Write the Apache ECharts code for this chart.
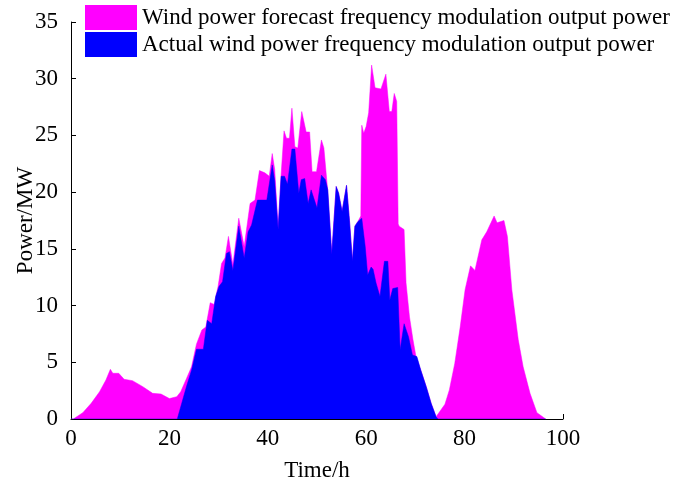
<!DOCTYPE html>
<html>
<head>
<meta charset="utf-8">
<script src="https://cdn.jsdelivr.net/npm/echarts@6/dist/echarts.min.js"></script>
<style>html,body{margin:0;padding:0;background:#fff}#c{width:686px;height:489px}</style>
</head>
<body>
<div id="c"></div>
<script>
var seriesNames = ['Wind power forecast frequency modulation output power', 'Actual wind power frequency modulation output power'];
var xTicks = [0, 20, 40, 60, 80, 100];
var yTicks = [0, 5, 10, 15, 20, 25, 30, 35];

var forecastT = [0, 0.5, 1, 2.4, 4.1, 5.8, 7.1, 8, 8.5, 9.7, 10.8, 12.5, 14.6, 16.6, 18.3, 20, 21.5, 22.3, 23.5, 24.5, 25.5, 26.6, 27.4, 28.3, 29.1, 29.9, 30.6, 31.3, 32.0, 32.9, 34.1, 35.2, 36.4, 37.4, 38.3, 39.4, 40.3, 40.9, 41.4, 42.1, 42.7, 43.3, 43.8, 44.4, 44.9, 45.5, 46.1, 46.9, 47.8, 48.5, 49.0, 49.9, 50.9, 51.4, 52.1, 53.0, 53.9, 54.4, 55.1, 56.0, 56.6, 57.2, 57.7, 58.3, 58.9, 59.1, 59.5, 60.0, 60.5, 61.1, 61.8, 63.0, 64.0, 64.7, 65.2, 65.7, 66.2, 66.5, 66.7, 67.7, 68.1, 68.8, 69.5, 70.1, 71.1, 72.2, 73.2, 74.2, 74.6, 76, 76.9, 78, 79.1, 80.1, 81.2, 82.1, 83.5, 84.5, 86, 86.6, 88, 88.7, 89.6, 90.9, 91.9, 93.3, 94.7, 96, 96.5];
var forecastV = [0, 0, 0.15, 0.56, 1.38, 2.4, 3.44, 4.38, 4.03, 4.03, 3.5, 3.38, 2.85, 2.26, 2.2, 1.8, 1.97, 2.4, 3.6, 4.6, 6.6, 7.85, 8.1, 10.25, 10.1, 11.7, 13.7, 14.2, 16.1, 13.6, 17.7, 15.2, 19.0, 19.3, 21.9, 21.7, 21.4, 23.4, 22.0, 16.9, 21.5, 25.4, 24.75, 24.75, 27.4, 24.0, 23.9, 27.1, 25.3, 25.3, 21.8, 21.8, 24.6, 23.9, 20.5, 14.6, 20.5, 19.9, 18.3, 20.6, 17.5, 13.9, 17.0, 17.4, 17.9, 25.9, 25.2, 25.8, 27.0, 31.2, 29.2, 29.1, 30.4, 27.1, 27.1, 28.7, 28.0, 17.2, 17.0, 16.7, 12.0, 9.0, 7.0, 5.55, 4.3, 2.85, 1.38, 0.2, 0.1, 1.3, 2.56, 4.9, 8.1, 11.4, 13.5, 13.1, 15.8, 16.5, 17.9, 17.3, 17.5, 16.1, 11.4, 7.0, 4.6, 2.26, 0.56, 0.15, 0];

var actualT = [0, 21.6, 23.5, 24.5, 25.5, 26.9, 27.7, 28.6, 29.4, 30.1, 30.8, 31.6, 32.2, 32.9, 34.1, 35.2, 36.0, 36.7, 37.9, 39.8, 40.4, 40.9, 41.4, 42.1, 42.7, 43.4, 44.0, 44.9, 45.5, 46.3, 46.8, 47.5, 48.2, 48.8, 50.0, 50.9, 51.7, 52.2, 53.0, 53.9, 54.4, 55.1, 56.0, 56.6, 57.2, 57.7, 58.3, 59.1, 59.8, 60.3, 61.0, 61.4, 62.0, 62.8, 63.7, 64.4, 64.8, 65.4, 66.4, 66.9, 67.7, 68.6, 69.4, 70.3, 71.1, 72.2, 73.2, 74.2, 74.6, 96.5];
var actualV = [0, 0, 2.9, 4.3, 6.15, 6.15, 8.7, 8.4, 10.8, 11.7, 12.1, 14.6, 14.75, 13.1, 17.0, 14.2, 16.5, 17.1, 19.3, 19.3, 21.0, 22.4, 21.0, 16.7, 21.4, 21.4, 20.7, 23.8, 23.8, 19.9, 21.1, 21.2, 19.0, 20.2, 18.6, 21.5, 21.1, 20.2, 14.5, 20.5, 19.9, 18.3, 20.6, 17.5, 13.9, 17.0, 17.4, 17.7, 15.2, 12.7, 13.4, 13.2, 12.0, 10.8, 13.9, 13.9, 10.5, 11.5, 11.6, 6.1, 8.4, 7.25, 5.65, 5.5, 4.3, 2.85, 1.38, 0.2, 0, 0];

function pairs(t, v) { return t.map(function (x, i) { return [x, v[i]]; }); }

var font = '"Liberation Serif", "Times New Roman", serif';
var fs = 23;
var chart = echarts.init(document.getElementById('c'));
chart.setOption({
  animation: false,
  backgroundColor: '#fff',
  textStyle: { fontFamily: font },
  legend: {
    orient: 'vertical', left: 80, top: 0,
    itemWidth: 52, itemHeight: 25, itemGap: 2,
    icon: 'rect',
    textStyle: { fontFamily: font, fontSize: fs, color: '#000' },
    data: seriesNames
  },
  grid: { left: 71, right: 123, top: 22, bottom: 70, containLabel: false, outerBoundsMode: 'none' },
  xAxis: {
    type: 'value', min: xTicks[0], max: xTicks[xTicks.length - 1], interval: 20,
    name: 'Time/h', nameLocation: 'middle', nameGap: 40, nameMoveOverlap: false,
    nameTextStyle: { fontFamily: font, fontSize: fs, color: '#000' },
    axisLine: { lineStyle: { color: '#000', width: 1 } },
    axisTick: { inside: true, length: 5, lineStyle: { color: '#000' } },
    axisLabel: { fontFamily: font, fontSize: fs, color: '#000', margin: 8 },
    splitLine: { show: false }
  },
  yAxis: {
    type: 'value', min: yTicks[0], max: yTicks[yTicks.length - 1], interval: 5,
    name: 'Power/MW', nameLocation: 'middle', nameGap: 34, nameMoveOverlap: false,
    nameTextStyle: { fontFamily: font, fontSize: fs, color: '#000' },
    axisLine: { show: true, lineStyle: { color: '#000', width: 1 } },
    axisTick: { show: true, inside: true, length: 5, lineStyle: { color: '#000' } },
    axisLabel: { fontFamily: font, fontSize: fs, color: '#000', margin: 13 },
    splitLine: { show: false }
  },
  series: [
    {
      name: seriesNames[0], type: 'line', data: pairs(forecastT, forecastV),
      showSymbol: false, symbol: 'none', z: 1,
      itemStyle: { color: '#FF00FF' },
      lineStyle: { color: '#FF00FF', width: 0.5 },
      areaStyle: { color: '#FF00FF', opacity: 1 }
    },
    {
      name: seriesNames[1], type: 'line', data: pairs(actualT, actualV),
      showSymbol: false, symbol: 'none', z: 2,
      itemStyle: { color: '#0000FF' },
      lineStyle: { color: '#0000FF', width: 0.5 },
      areaStyle: { color: '#0000FF', opacity: 1 }
    }
  ]
});
</script>
</body>
</html>
